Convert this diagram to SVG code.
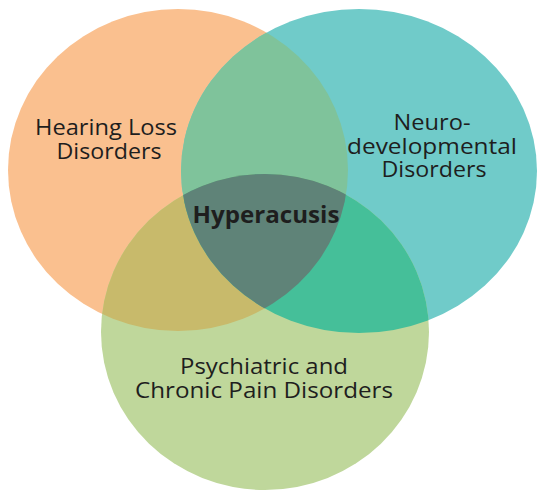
<svg xmlns="http://www.w3.org/2000/svg" width="538" height="493" viewBox="0 0 538 493">
<style>
.lbl{font-family:"Open Sans","Liberation Sans",sans-serif;font-size:22px;fill:#1e1e1e;text-anchor:middle}
.bold{font-weight:bold;font-size:23px}
</style>
<defs>
<ellipse id="eO" cx="178" cy="170" rx="170" ry="161"/>
<ellipse id="eT" cx="359" cy="171" rx="178" ry="162"/>
<ellipse id="eG" cx="265" cy="332" rx="164" ry="158"/>
<clipPath id="cO"><use href="#eO"/></clipPath>
<clipPath id="cT"><use href="#eT"/></clipPath>
<clipPath id="cG"><use href="#eG"/></clipPath>
</defs>
<rect width="538" height="493" fill="#ffffff"/>
<g id="hearing-loss">
<use href="#eO" fill="#FAC08F"/>
</g>
<g id="neuro">
<use href="#eT" fill="#70CBC9"/>
</g>
<g id="psychiatric">
<use href="#eG" fill="#BFD79B"/>
</g>
<g id="overlaps">
<g clip-path="url(#cO)"><use href="#eT" fill="#7FC39B"/></g>
<g clip-path="url(#cO)"><use href="#eG" fill="#C8BA6B"/></g>
<g clip-path="url(#cT)"><use href="#eG" fill="#45BF99"/></g>
<g clip-path="url(#cO)"><g clip-path="url(#cT)"><use href="#eG" fill="#5F8378"/></g></g>
</g>
<g id="labels">
<text class="lbl" x="106" y="135" textLength="142" lengthAdjust="spacingAndGlyphs">Hearing Loss</text>
<text class="lbl" x="109" y="159" textLength="105" lengthAdjust="spacingAndGlyphs">Disorders</text>
<text class="lbl" x="432" y="130" textLength="77" lengthAdjust="spacingAndGlyphs">Neuro-</text>
<text class="lbl" x="432" y="154" textLength="170" lengthAdjust="spacingAndGlyphs">developmental</text>
<text class="lbl" x="434" y="177" textLength="105" lengthAdjust="spacingAndGlyphs">Disorders</text>
<text class="lbl bold" x="266" y="223" textLength="147" lengthAdjust="spacingAndGlyphs">Hyperacusis</text>
<text class="lbl" x="264" y="374" textLength="168" lengthAdjust="spacingAndGlyphs">Psychiatric and</text>
<text class="lbl" x="264" y="398" textLength="258" lengthAdjust="spacingAndGlyphs">Chronic Pain Disorders</text>
</g>
</svg>
